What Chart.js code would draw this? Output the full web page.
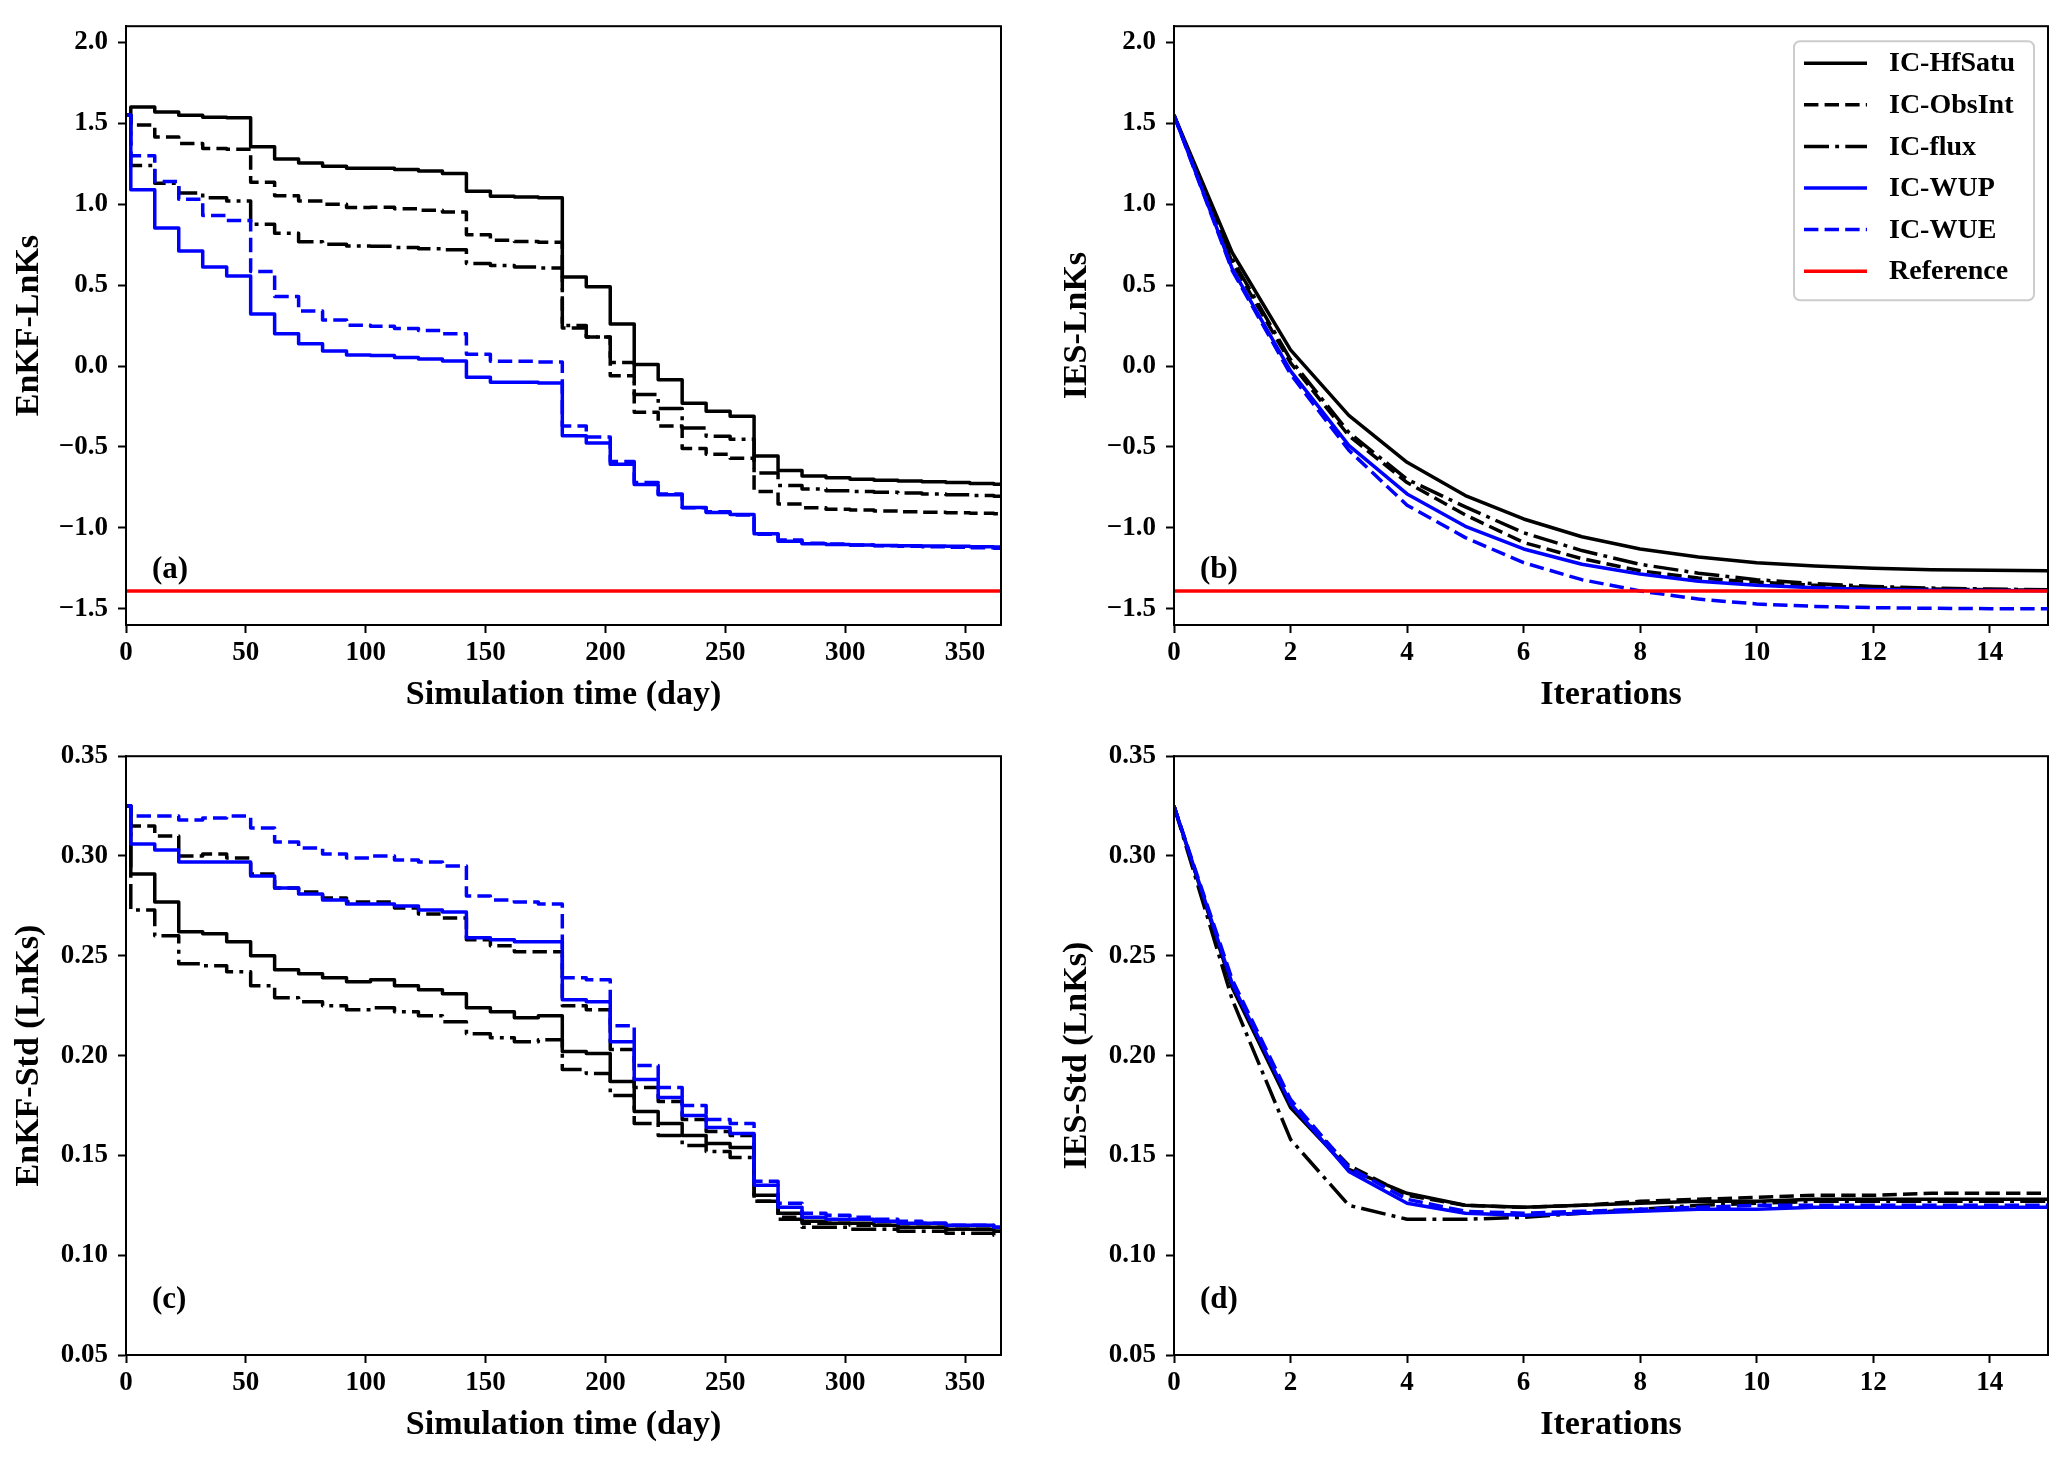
<!DOCTYPE html>
<html><head><meta charset="utf-8">
<script src="https://cdn.jsdelivr.net/npm/chart.js@4.4.1/dist/chart.umd.min.js"></script>
<style>
html,body{margin:0;padding:0;background:#fff;}
body{width:2067px;height:1462px;position:relative;overflow:hidden;}
.p{position:absolute;width:1010px;height:720px;}
</style></head><body>
<div class="p" style="left:0px;top:0px"><canvas id="ca"></canvas></div>
<div class="p" style="left:1048px;top:0px"><canvas id="cb"></canvas></div>
<div class="p" style="left:0px;top:730px"><canvas id="cc"></canvas></div>
<div class="p" style="left:1048px;top:730px"><canvas id="cd"></canvas></div>
<script>
// ---------------- DATA ----------------
const seriesNames = ['IC-HfSatu','IC-ObsInt','IC-flux','IC-WUP','IC-WUE'];
const refName = 'Reference';
const refValue = -1.39;

// assimilation (update) days for EnKF step curves
const days = [0,2,12,22,32,42,52,62,72,82,92,102,112,122,132,142,152,162,172,182,192,202,212,222,232,242,252,262,272,282,292,302,312,322,332,342,352,362,365];
const iterations = [0,1,2,3,4,5,6,7,8,9,10,11,12,13,14,15];

// (a) EnKF-LnKs
const enkfLnKs_HfSatu = [1.55,1.60,1.57,1.55,1.537,1.535,1.355,1.28,1.255,1.235,1.222,1.222,1.215,1.205,1.19,1.08,1.05,1.045,1.04,0.55,0.49,0.26,0.01,-0.085,-0.23,-0.28,-0.31,-0.555,-0.645,-0.68,-0.69,-0.70,-0.705,-0.71,-0.715,-0.72,-0.725,-0.73,-0.73];
const enkfLnKs_ObsInt = [1.55,1.49,1.415,1.375,1.345,1.34,1.135,1.052,1.02,1.0,0.98,0.982,0.972,0.962,0.952,0.812,0.778,0.77,0.765,0.235,0.18,-0.06,-0.285,-0.37,-0.51,-0.545,-0.57,-0.775,-0.852,-0.875,-0.885,-0.89,-0.895,-0.90,-0.903,-0.906,-0.91,-0.912,-0.912];
const enkfLnKs_flux   = [1.55,1.24,1.13,1.07,1.04,1.02,0.876,0.82,0.768,0.752,0.742,0.74,0.732,0.725,0.719,0.634,0.622,0.612,0.606,0.25,0.179,0.022,-0.175,-0.262,-0.382,-0.433,-0.453,-0.661,-0.738,-0.76,-0.77,-0.775,-0.78,-0.785,-0.79,-0.795,-0.80,-0.805,-0.805];
const enkfLnKs_WUP    = [1.55,1.09,0.853,0.711,0.612,0.557,0.321,0.199,0.138,0.093,0.069,0.065,0.053,0.043,0.032,-0.069,-0.10,-0.10,-0.105,-0.43,-0.476,-0.607,-0.732,-0.795,-0.874,-0.905,-0.917,-1.036,-1.082,-1.098,-1.102,-1.105,-1.108,-1.11,-1.112,-1.114,-1.116,-1.118,-1.118];
const enkfLnKs_WUE    = [1.55,1.30,1.14,1.03,0.93,0.90,0.585,0.43,0.34,0.285,0.252,0.246,0.232,0.22,0.20,0.073,0.029,0.029,0.025,-0.37,-0.439,-0.59,-0.72,-0.79,-0.875,-0.90,-0.92,-1.04,-1.075,-1.095,-1.10,-1.105,-1.11,-1.113,-1.116,-1.119,-1.122,-1.125,-1.125];

// (b) IES-LnKs
const iesLnKs_HfSatu = [1.55,0.70,0.10,-0.305,-0.595,-0.80,-0.945,-1.055,-1.13,-1.18,-1.215,-1.235,-1.25,-1.258,-1.262,-1.265];
const iesLnKs_ObsInt = [1.55,0.64,0.02,-0.43,-0.72,-0.92,-1.09,-1.19,-1.265,-1.31,-1.335,-1.355,-1.37,-1.378,-1.382,-1.385];
const iesLnKs_flux   = [1.55,0.66,0.04,-0.41,-0.70,-0.87,-1.03,-1.14,-1.225,-1.28,-1.32,-1.345,-1.362,-1.372,-1.378,-1.382];
const iesLnKs_WUP    = [1.55,0.60,-0.03,-0.49,-0.79,-0.99,-1.13,-1.225,-1.285,-1.33,-1.355,-1.37,-1.38,-1.385,-1.387,-1.388];
const iesLnKs_WUE    = [1.55,0.59,-0.05,-0.52,-0.86,-1.06,-1.215,-1.32,-1.39,-1.44,-1.47,-1.485,-1.493,-1.497,-1.499,-1.50];

// (c) EnKF-Std (LnKs)
const enkfStd_HfSatu = [0.325,0.291,0.277,0.262,0.261,0.257,0.250,0.243,0.241,0.239,0.237,0.238,0.235,0.233,0.231,0.224,0.222,0.219,0.220,0.202,0.201,0.187,0.172,0.166,0.160,0.156,0.154,0.130,0.121,0.117,0.116,0.116,0.115,0.114,0.114,0.113,0.113,0.112,0.112];
const enkfStd_ObsInt = [0.325,0.315,0.310,0.300,0.301,0.299,0.291,0.284,0.282,0.279,0.277,0.277,0.274,0.271,0.269,0.258,0.255,0.252,0.252,0.225,0.223,0.203,0.184,0.177,0.168,0.162,0.160,0.127,0.119,0.116,0.116,0.115,0.115,0.114,0.114,0.113,0.113,0.112,0.112];
const enkfStd_flux   = [0.325,0.273,0.260,0.246,0.245,0.242,0.235,0.229,0.227,0.225,0.223,0.224,0.222,0.220,0.217,0.211,0.209,0.207,0.208,0.193,0.191,0.180,0.166,0.160,0.155,0.152,0.149,0.127,0.118,0.114,0.114,0.113,0.113,0.112,0.112,0.111,0.111,0.110,0.110];
const enkfStd_WUP    = [0.325,0.306,0.303,0.297,0.297,0.297,0.290,0.284,0.281,0.278,0.276,0.276,0.275,0.273,0.272,0.259,0.258,0.257,0.257,0.228,0.227,0.207,0.188,0.179,0.170,0.164,0.161,0.135,0.124,0.119,0.118,0.118,0.117,0.116,0.116,0.115,0.115,0.114,0.114];
const enkfStd_WUE    = [0.325,0.320,0.320,0.318,0.319,0.320,0.314,0.307,0.304,0.301,0.299,0.300,0.298,0.297,0.295,0.280,0.278,0.277,0.276,0.239,0.238,0.215,0.195,0.184,0.175,0.168,0.166,0.137,0.126,0.121,0.120,0.119,0.118,0.117,0.116,0.115,0.115,0.114,0.114];

// (d) IES-Std (LnKs)
const iesStd_HfSatu = [0.325,0.234,0.174,0.143,0.131,0.125,0.124,0.125,0.126,0.127,0.127,0.128,0.128,0.128,0.128,0.128];
const iesStd_ObsInt = [0.325,0.235,0.175,0.145,0.130,0.125,0.124,0.125,0.127,0.128,0.129,0.130,0.130,0.131,0.131,0.131];
const iesStd_flux   = [0.325,0.228,0.158,0.125,0.118,0.118,0.119,0.121,0.123,0.125,0.126,0.127,0.127,0.127,0.127,0.127];
const iesStd_WUP    = [0.325,0.236,0.176,0.142,0.126,0.121,0.120,0.121,0.122,0.123,0.123,0.124,0.124,0.124,0.124,0.124];
const iesStd_WUE    = [0.325,0.238,0.178,0.144,0.128,0.122,0.121,0.122,0.123,0.124,0.125,0.125,0.125,0.125,0.125,0.125];

// tick labels
const dayTicks = [0,50,100,150,200,250,300,350];
const iterTicks = [0,2,4,6,8,10,12,14];
const lnksTicks = [-1.5,-1.0,-0.5,0.0,0.5,1.0,1.5,2.0];
const stdTicks = [0.05,0.10,0.15,0.20,0.25,0.30,0.35];

// ---------------- STYLE ----------------
const FAM = "'Liberation Serif','Times New Roman',serif";
const tickFont = {family: FAM, size: 27, weight: 'bold'};
const titleFont = {family: FAM, size: 34, weight: 'bold'};
const lineStyles = [
  {color:'#000000', dash:[]},
  {color:'#000000', dash:[14.4,6.2]},
  {color:'#000000', dash:[25,6.2,3.9,6.2]},
  {color:'#0000ff', dash:[]},
  {color:'#0000ff', dash:[14.4,6.2]}
];

function fmt(v, d){ const s = Math.abs(v).toFixed(d); return (v < -1e-9 ? '\u2212' : '') + s; }

function makeDatasets(xs, lists, stepped, withRef, xmax){
  const ds = lists.map((ys,i)=>({
    label: seriesNames[i],
    data: xs.map((x,j)=>({x:x, y:ys[j]})),
    borderColor: lineStyles[i].color,
    borderDash: lineStyles[i].dash,
    borderWidth: 3.5,
    borderCapStyle: 'butt',
    borderJoinStyle: 'round',
    pointRadius: 0, pointHoverRadius: 0,
    fill: false, tension: 0,
    stepped: stepped ? 'before' : false,
    order: 10 - i
  }));
  if (withRef) ds.push({
    label: refName,
    data: [{x:0,y:refValue},{x:xmax,y:refValue}],
    borderColor:'#ff0000', borderWidth:3.5, borderDash:[],
    pointRadius:0, pointHoverRadius:0, fill:false, order:0
  });
  return ds;
}

const framePlugin = {
  id:'frame',
  afterDraw(chart){
    const {ctx, chartArea:a} = chart;
    ctx.save(); ctx.strokeStyle='#000'; ctx.lineWidth=2; ctx.setLineDash([]);
    ctx.strokeRect(a.left, a.top, a.right-a.left, a.bottom-a.top);
    ctx.restore();
  }
};
const labelPlugin = {
  id:'panelLabel',
  afterDraw(chart, args, opts){
    const {ctx, chartArea:a} = chart;
    ctx.save(); ctx.fillStyle='#000'; ctx.font = "bold 31px " + FAM;
    ctx.textAlign='left'; ctx.textBaseline='middle';
    ctx.fillText(opts.text, a.left + 26, a.bottom - 55);
    ctx.restore();
  }
};
const legendPlugin = {
  id:'insideLegend',
  afterDraw(chart, args, opts){
    if(!opts.show) return;
    const {ctx, chartArea:a} = chart;
    const w = 240, h = 259;
    const x0 = a.right - 14 - w, y0 = a.top + 15;
    ctx.save();
    ctx.beginPath();
    ctx.roundRect(x0, y0, w, h, 6);
    ctx.fillStyle='rgba(255,255,255,0.8)'; ctx.fill();
    ctx.strokeStyle='#cccccc'; ctx.lineWidth=2; ctx.stroke();
    chart.data.datasets.forEach((ds,i)=>{
      const y = y0 + 22 + i*41.6;
      ctx.beginPath(); ctx.setLineDash(ds.borderDash||[]);
      ctx.strokeStyle = ds.borderColor; ctx.lineWidth = ds.borderWidth; ctx.lineCap='butt';
      ctx.moveTo(x0+10, y); ctx.lineTo(x0+73, y); ctx.stroke();
      ctx.setLineDash([]);
      ctx.fillStyle='#000'; ctx.font = "bold 28px " + FAM;
      ctx.textAlign='left'; ctx.textBaseline='middle';
      ctx.fillText(ds.label, x0+95, y+1);
    });
    ctx.restore();
  }
};

function makeChart(id, datasets, cfg){
  return new Chart(document.getElementById(id), {
    type:'line',
    data:{datasets: datasets},
    options:{
      responsive:true, maintainAspectRatio:false, animation:false, devicePixelRatio:1,
      events: [],
      layout:{padding:{top:18, right:cfg.padRight, left:0, bottom:0}},
      plugins:{
        legend:{display:false}, tooltip:{enabled:false},
        panelLabel:{text:cfg.label}, insideLegend:{show:!!cfg.legend}
      },
      scales:{
        x:{
          type:'linear', min:0, max:cfg.xmax,
          afterBuildTicks:(s)=>{ s.ticks = cfg.xticks.map(v=>({value:v})); },
          afterFit:(s)=>{ s.height = 95; },
          ticks:{font:tickFont, color:'#000', padding:4, maxRotation:0, autoSkip:false, callback:(v)=>fmt(v,0)},
          grid:{display:true, drawOnChartArea:false, drawTicks:true, tickLength:8, tickWidth:2, tickColor:'#000'},
          border:{display:true, color:'#000', width:2},
          title:{display:true, text:cfg.xtitle, font:titleFont, color:'#000', padding:{top:0, bottom:4}}
        },
        y:{
          type:'linear', min:cfg.ymin, max:cfg.ymax,
          afterBuildTicks:(s)=>{ s.ticks = cfg.yticks.map(v=>({value:v})); },
          afterFit:(s)=>{ s.width = 126; },
          ticks:{font:tickFont, color:'#000', padding:10, autoSkip:false, callback:(v)=>fmt(v,cfg.ydec)},
          grid:{display:true, drawOnChartArea:false, drawTicks:true, tickLength:8, tickWidth:2, tickColor:'#000'},
          border:{display:true, color:'#000', width:2},
          title:{display:true, text:cfg.ytitle, font:titleFont, color:'#000', padding:{top:9, bottom:0}}
        }
      }
    },
    plugins:[framePlugin, labelPlugin, legendPlugin]
  });
}

makeChart('ca', makeDatasets(days, [enkfLnKs_HfSatu,enkfLnKs_ObsInt,enkfLnKs_flux,enkfLnKs_WUP,enkfLnKs_WUE], true, true, 365),
  {xmax:365, ymin:-1.6, ymax:2.1, xticks:dayTicks, yticks:lnksTicks, ydec:1, xtitle:'Simulation time (day)', ytitle:'EnKF-LnKs', label:'(a)', padRight:9});
makeChart('cb', makeDatasets(iterations, [iesLnKs_HfSatu,iesLnKs_ObsInt,iesLnKs_flux,iesLnKs_WUP,iesLnKs_WUE], false, true, 15),
  {xmax:15, ymin:-1.6, ymax:2.1, xticks:iterTicks, yticks:lnksTicks, ydec:1, xtitle:'Iterations', ytitle:'IES-LnKs', label:'(b)', padRight:10, legend:true});
makeChart('cc', makeDatasets(days, [enkfStd_HfSatu,enkfStd_ObsInt,enkfStd_flux,enkfStd_WUP,enkfStd_WUE], true, false, 365),
  {xmax:365, ymin:0.05, ymax:0.35, xticks:dayTicks, yticks:stdTicks, ydec:2, xtitle:'Simulation time (day)', ytitle:'EnKF-Std (LnKs)', label:'(c)', padRight:9});
makeChart('cd', makeDatasets(iterations, [iesStd_HfSatu,iesStd_ObsInt,iesStd_flux,iesStd_WUP,iesStd_WUE], false, false, 15),
  {xmax:15, ymin:0.05, ymax:0.35, xticks:iterTicks, yticks:stdTicks, ydec:2, xtitle:'Iterations', ytitle:'IES-Std (LnKs)', label:'(d)', padRight:10});
</script>
</body></html>
